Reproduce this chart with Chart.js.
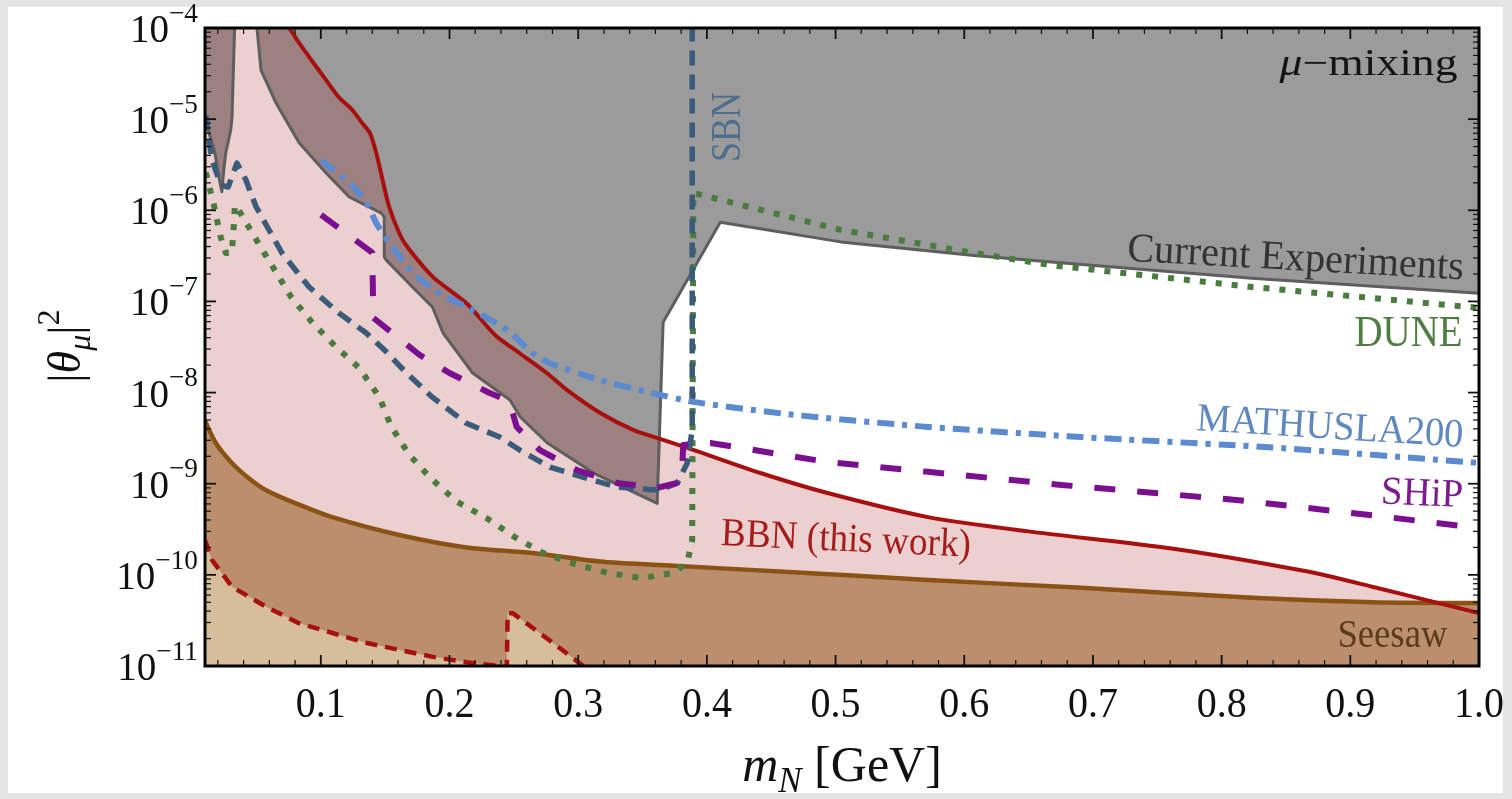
<!DOCTYPE html>
<html>
<head>
<meta charset="utf-8">
<title>Heavy neutral lepton: muon mixing</title>
<script src="https://cdn.jsdelivr.net/npm/chart.js@4.4.1/dist/chart.umd.min.js"></script>
<style>
  html, body { margin: 0; padding: 0; background: #e4e4e4; overflow: hidden; }
  canvas { display: block; }
</style>
</head>
<body>
<canvas id="hnl" width="1512" height="799"></canvas>
<script>
// m_N in GeV, |theta_mu|^2 dimensionless

// current experiments (lower edge of the excluded region)
const ceMass = [0.01, 0.0176, 0.0208, 0.0231, 0.0246, 0.0262, 0.030, 0.031, 0.033, 0.034, 0.049, 0.0504, 0.0535, 0.0652, 0.0831, 0.1041, 0.1221, 0.147, 0.1493, 0.1493, 0.1509, 0.1712, 0.1867, 0.195, 0.218, 0.247, 0.255, 0.276, 0.312, 0.3614, 0.366, 0.4104, 0.504, 0.6076, 0.6676, 0.8236, 1.0];
const ceMix = [1.0e-5, 4.3e-6, 2.3e-6, 1.6e-6, 2.8e-6, 4.3e-6, 7.6e-6, 1.06e-5, 1e-4, 3e-4, 3e-4, 1e-4, 3.46e-5, 1.5e-5, 5.5e-6, 2.56e-6, 1.4e-6, 9.3e-7, 8.4e-7, 3.07e-7, 2.84e-7, 1.44e-7, 8.7e-8, 4.5e-8, 1.64e-8, 8.3e-9, 5.4e-9, 2.8e-9, 1.31e-9, 6.1e-10, 5.9e-8, 7.4e-7, 4.5e-7, 3.2e-7, 2.7e-7, 1.8e-7, 1.23e-7];

// BBN upper bound (this work)
const bbnMass = [0.01, 0.0753, 0.083, 0.091, 0.104, 0.114, 0.1245, 0.132, 0.138, 0.143, 0.148, 0.153, 0.161, 0.167, 0.187, 0.213, 0.236, 0.2546, 0.2756, 0.2912, 0.3169, 0.3427, 0.3637, 0.3894, 0.4416, 0.4938, 0.5718, 0.6497, 0.7612, 0.8649, 0.9171, 1.0];
const bbnMix = [1e-3, 1e-4, 6.9e-5, 4.8e-5, 2.7e-5, 1.74e-5, 1.26e-5, 9.1e-6, 7.1e-6, 4.3e-6, 2.15e-6, 1.1e-6, 5.6e-7, 4.0e-7, 1.86e-7, 9.6e-8, 4.2e-8, 2.7e-8, 1.64e-8, 1.07e-8, 6.0e-9, 3.9e-9, 3.1e-9, 2.35e-9, 1.31e-9, 7.9e-10, 4.3e-10, 3.0e-10, 1.95e-10, 1.1e-10, 7.4e-11, 3.8e-11];

// BBN lower bound
const bbnLowMass = [0.01, 0.0153, 0.031, 0.057, 0.083, 0.109, 0.135, 0.161, 0.187, 0.213, 0.239, 0.2445, 0.2452, 0.2491, 0.278, 0.304, 0.33];
const bbnLowMix = [2.4e-10, 1.46e-10, 7.4e-11, 4.5e-11, 2.95e-11, 2.3e-11, 1.8e-11, 1.5e-11, 1.26e-11, 1.1e-11, 1.0e-11, 9.5e-12, 3.8e-11, 3.8e-11, 1.9e-11, 1.0e-11, 6e-12];

// seesaw line
const seesawMass = [0.01, 0.0184, 0.0309, 0.044, 0.0574, 0.083, 0.1088, 0.161, 0.2132, 0.2647, 0.3169, 0.3637, 0.4673, 0.5718, 0.691, 0.8134, 0.9171, 1.0];
const seesawMix = [4.9e-9, 2.8e-9, 1.69e-9, 1.15e-9, 8.5e-10, 5.9e-10, 4.3e-10, 2.74e-10, 2.0e-10, 1.74e-10, 1.4e-10, 1.28e-10, 1.07e-10, 8.8e-11, 7.2e-11, 5.7e-11, 5.0e-11, 4.9e-11];

// SBN sensitivity
const sbnMass = [0.0106, 0.0153, 0.0223, 0.028, 0.0348, 0.0418, 0.0496, 0.0698, 0.0909, 0.1143, 0.1353, 0.1509, 0.1665, 0.1867, 0.2132, 0.239, 0.2546, 0.278, 0.3037, 0.330, 0.3637, 0.377, 0.3847, 0.3886, 0.3886];
const sbnMix = [1.1e-5, 3.6e-6, 1.9e-6, 1.8e-6, 3.3e-6, 2.15e-6, 1.1e-6, 3.4e-7, 1.44e-7, 7.4e-8, 4.5e-8, 2.8e-8, 1.64e-8, 8.9e-9, 4.6e-9, 3.25e-9, 2.34e-9, 1.52e-9, 1.18e-9, 9.2e-10, 8.5e-10, 1.02e-9, 1.68e-9, 3.9e-9, 2e-4];

// SHiP sensitivity
const shipMass = [0.1002, 0.1392, 0.1400, 0.1408, 0.1766, 0.2000, 0.2312, 0.2444, 0.2491, 0.2522, 0.2702, 0.299, 0.3302, 0.3614, 0.3770, 0.3809, 0.3816, 0.4027, 0.4938, 0.5718, 0.6754, 0.8134, 0.9171, 1.0];
const shipMix = [8.9e-7, 3.5e-7, 3.4e-7, 6.6e-8, 2.6e-8, 1.64e-8, 9.9e-9, 8.3e-9, 6.0e-9, 4.2e-9, 2.34e-9, 1.41e-9, 1.02e-9, 9.0e-10, 1.02e-9, 1.52e-9, 2.66e-9, 2.8e-9, 1.73e-9, 1.35e-9, 9.7e-10, 6.6e-10, 4.5e-10, 3.26e-10];

// MATHUSLA200 sensitivity
const mathMass = [0.1002, 0.1221, 0.1353, 0.1431, 0.1532, 0.1712, 0.1922, 0.2132, 0.2444, 0.2647, 0.278, 0.3169, 0.3559, 0.3894, 0.4673, 0.5718, 0.691, 0.8392, 1.0];
const mathMix = [3.56e-6, 2.0e-6, 1.23e-6, 7.2e-7, 4.4e-7, 2.05e-7, 1.23e-7, 8.7e-8, 4.9e-8, 2.7e-8, 2.1e-8, 1.37e-8, 1.0e-8, 7.9e-9, 5.7e-9, 4.2e-9, 3.25e-9, 2.5e-9, 1.69e-9];

// DUNE sensitivity
const duneMass = [0.0106, 0.0169, 0.0192, 0.0223, 0.0262, 0.0309, 0.0324, 0.0332, 0.0363, 0.0441, 0.0535, 0.0597, 0.0769, 0.0932, 0.1118, 0.1299, 0.1455, 0.1548, 0.1688, 0.1867, 0.2062, 0.2288, 0.2506, 0.2725, 0.2990, 0.3231, 0.3496, 0.3739, 0.3847, 0.3886, 0.3895, 0.504, 0.6076, 0.6676, 0.8236, 1.0];
const duneMix = [2.6e-6, 1.15e-6, 8.0e-7, 5.0e-7, 3.4e-7, 3.4e-7, 6.9e-7, 1.14e-6, 1.0e-6, 6.5e-7, 3.9e-7, 2.8e-7, 1.12e-7, 5.9e-8, 3.16e-8, 1.86e-8, 8.9e-9, 4.2e-9, 2.07e-9, 1.1e-9, 6.3e-10, 4.2e-10, 2.6e-10, 1.74e-10, 1.29e-10, 1.05e-10, 9.2e-11, 1.05e-10, 1.35e-10, 2.4e-10, 1.55e-6, 6.1e-7, 3.4e-7, 2.5e-7, 1.44e-7, 8.5e-8];

// axis ticks
const massTicks = [0.1, 0.2, 0.3, 0.4, 0.5, 0.6, 0.7, 0.8, 0.9, 1.0];
const mixDecades = [-11, -10, -9, -8, -7, -6, -5, -4];

const pts = (xs, ys) => xs.map((x, i) => ({ x, y: ys[i] }));

const area = (data, fill, color, order, tension) => ({
  data, fill, backgroundColor: color, borderColor: 'transparent', borderWidth: 0, order, tension: tension || 0
});
const curve = (data, color, width, dash, order, tension) => ({
  data, fill: false, borderColor: color, borderWidth: width, borderDash: dash,
  borderCapStyle: 'butt', borderJoinStyle: 'round', order, tension: tension || 0
});

const SERIF = '"Liberation Serif", "DejaVu Serif", serif';

// draws a run of text pieces: [text, sizeScale, baselineShift(em), italic]
function drawRuns(ctx, runs, px, py, o) {
  ctx.save();
  ctx.translate(px, py);
  if (o.rot) ctx.rotate(o.rot * Math.PI / 180);
  const font = r => (r[3] ? 'italic ' : '') + (o.size * (r[1] || 1)).toFixed(1) + 'px ' + SERIF;
  let total = 0;
  const widths = runs.map(r => { ctx.font = font(r); const w = ctx.measureText(r[0]).width; total += w; return w; });
  if (o.width) ctx.scale(o.width / total, 1);
  let cx = o.align === 'right' ? -total : o.align === 'center' ? -total / 2 : 0;
  ctx.fillStyle = o.color || '#111';
  ctx.textAlign = 'left';
  ctx.textBaseline = 'alphabetic';
  runs.forEach((r, i) => {
    ctx.font = font(r);
    ctx.fillText(r[0], cx, (r[2] || 0) * o.size);
    cx += widths[i];
  });
  ctx.restore();
}

const notes = [
  { runs: [['μ', 1, 0, true], ['\u2212mixing']], at: [0.9833, 3.05e-5], align: 'right', size: 37, width: 178, color: '#141414' },
  { runs: [['Current Experiments']], at: [0.857, 2.21e-7], align: 'center', size: 41, width: 337, rot: 3.2, color: '#333333' },
  { runs: [['DUNE']], at: [0.9872, 3.24e-8], align: 'right', size: 44, width: 108, color: '#4f7d42' },
  { runs: [['MATHUSLA200']], at: [0.9872, 2.53e-9], align: 'right', size: 40, width: 267, rot: 3.6, color: '#6088c0' },
  { runs: [['SHiP']], at: [0.9872, 5.55e-10], align: 'right', size: 40, width: 82, rot: 2.5, color: '#7b1d8d' },
  { runs: [['BBN (this work)']], at: [0.5077, 1.83e-10], align: 'center', size: 40, width: 250, rot: 2.7, color: '#a51c1c' },
  { runs: [['Seesaw']], at: [0.9327, 1.62e-11], align: 'center', size: 40, width: 110, color: '#5b3a1e' },
  { runs: [['SBN']], at: [0.426, 8.2e-6], align: 'center', size: 42, width: 70, rot: -90, color: '#4f6e8d' }
];

const decorations = {
  id: 'decorations',
  beforeDraw(chart) {
    const ctx = chart.ctx;
    ctx.save();
    ctx.fillStyle = '#e4e4e4';
    ctx.fillRect(0, 0, chart.width, chart.height);
    ctx.fillStyle = '#ffffff';
    ctx.fillRect(8, 7, 1495, 786);
    ctx.restore();
  },
  afterDraw(chart) {
    const { ctx, chartArea: a, scales: { x, y } } = chart;
    ctx.save();
    ctx.strokeStyle = '#111';
    const tick = (x1, y1, x2, y2, w) => {
      ctx.lineWidth = w;
      ctx.beginPath(); ctx.moveTo(x1, y1); ctx.lineTo(x2, y2); ctx.stroke();
    };

    // inward ticks on all four sides
    for (let k = 1; k < 50; k++) {
      if (k % 5 === 0) continue;
      const px = x.getPixelForValue(k * 0.02);
      tick(px, a.bottom, px, a.bottom - 6, 1.2);
      tick(px, a.top, px, a.top + 6, 1.2);
    }
    massTicks.forEach(v => {
      const px = x.getPixelForValue(v);
      tick(px, a.bottom, px, a.bottom - 11, 1.8);
      tick(px, a.top, px, a.top + 11, 1.8);
    });
    mixDecades.forEach(d => {
      const py = y.getPixelForValue(Math.pow(10, d));
      tick(a.left, py, a.left + 11, py, 1.8);
      tick(a.right, py, a.right - 11, py, 1.8);
      if (d === -4) return;
      for (let m = 2; m < 10; m++) {
        const pm = y.getPixelForValue(m * Math.pow(10, d));
        tick(a.left, pm, a.left + 6, pm, 1.2);
        tick(a.right, pm, a.right - 6, pm, 1.2);
      }
    });

    ctx.lineWidth = 3;
    ctx.strokeStyle = '#000';
    ctx.strokeRect(a.left, a.top, a.right - a.left, a.bottom - a.top);

    // tick labels
    mixDecades.forEach(d => {
      const py = y.getPixelForValue(Math.pow(10, d));
      drawRuns(ctx, [['10'], ['\u2212' + Math.abs(d), 0.7, -0.52]], a.left - 7, py + 14, { size: 39, align: 'right' });
    });
    massTicks.forEach(v => {
      drawRuns(ctx, [[v.toFixed(1)]], x.getPixelForValue(v), a.bottom + 51, { size: 42, align: 'center', width: 50 });
    });

    // axis titles
    drawRuns(ctx, [['m', 1, 0, true], ['N', 0.7, 0.22, true], [' [GeV]']], (a.left + a.right) / 2, 781, { size: 50, align: 'center' });
    drawRuns(ctx, [['|'], ['θ', 1, 0, true], ['μ', 0.7, 0.22, true], ['|'], ['2', 0.7, -0.45]], 80, 346, { size: 46, align: 'center', rot: -90 });

    // curve labels
    notes.forEach(n => {
      drawRuns(ctx, n.runs, x.getPixelForValue(n.at[0]), y.getPixelForValue(n.at[1]), n);
    });
    ctx.restore();
  }
};

new Chart(document.getElementById('hnl'), {
  type: 'line',
  data: {
    datasets: [
      area(pts(ceMass, ceMix), 'end', '#9b9b9b', 60),
      area(pts(bbnMass, bbnMix), 'start', 'rgba(164, 31, 26, 0.21)', 50, 0.25),
      area(pts(seesawMass, seesawMix), 'start', '#bb8f6e', 40, 0.3),
      area(pts(bbnLowMass, bbnLowMix), 'start', '#d6be9c', 30),
      curve(pts(ceMass, ceMix), '#5e5e5e', 3, [], 20),
      curve(pts(seesawMass, seesawMix), '#8a5214', 4.5, [], 19, 0.3),
      curve(pts(bbnLowMass, bbnLowMix), '#a80f0f', 4.5, [12, 8], 18),
      curve(pts(bbnMass, bbnMix), '#a80f0f', 4, [], 17, 0.25),
      curve(pts(duneMass, duneMix), '#4b7b3f', 6, [6, 10], 16),
      curve(pts(sbnMass, sbnMix), '#3b5b7b', 5.5, [15, 9], 15),
      curve(pts(shipMass, shipMix), '#7a0f90', 6, [21, 22], 14),
      curve(pts(mathMass, mathMix), '#5b8ad0', 6, [17, 8, 5, 8], 13, 0.2)
    ]
  },
  options: {
    responsive: false,
    animation: false,
    devicePixelRatio: 1,
    layout: { padding: { left: 205, top: 28, right: 33, bottom: 133 } },
    elements: { point: { radius: 0, hoverRadius: 0 }, line: { tension: 0 } },
    plugins: { legend: { display: false }, tooltip: { enabled: false } },
    events: [],
    scales: {
      x: { type: 'linear', min: 0.01, max: 1.0, display: false },
      y: { type: 'logarithmic', min: 1e-11, max: 1e-4, display: false }
    }
  },
  plugins: [decorations]
});
</script>
</body>
</html>
